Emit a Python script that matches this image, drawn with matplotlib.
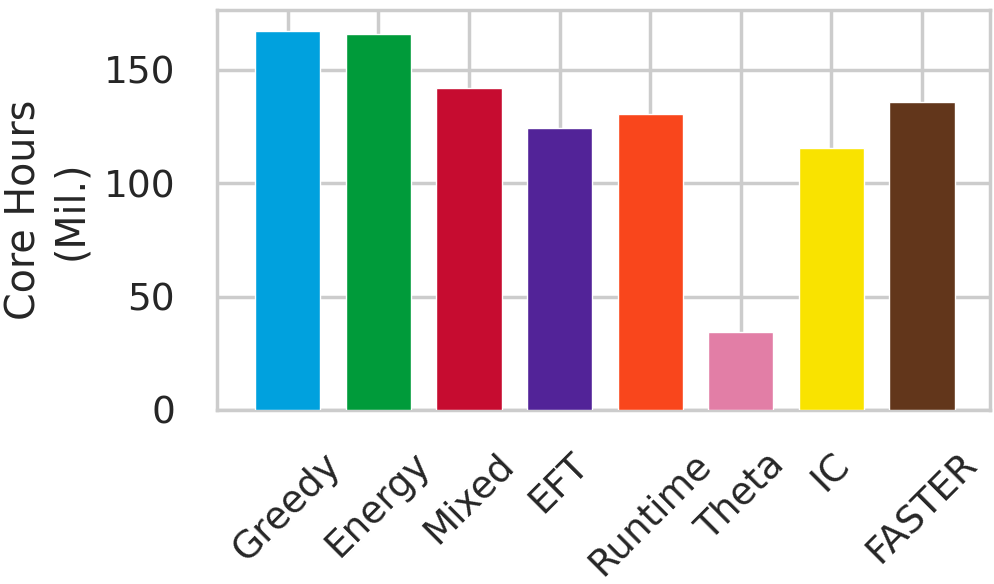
import numpy as np
import matplotlib
matplotlib.use("Agg")
import matplotlib.pyplot as plt
import seaborn as sns

methods = ["Greedy", "Energy", "Mixed", "EFT", "Runtime", "Theta", "IC", "FASTER"]
core_hours = [167.1, 165.9, 141.8, 124.2, 130.4, 34.3, 115.6, 135.6]
# CTA line colours
colors = ["#00A1DE", "#009B3A", "#C60C30", "#522398",
          "#F9461C", "#E27EA6", "#F9E300", "#62361B"]

sns.set_theme(style="whitegrid", context="poster")
plt.rcParams["font.family"] = ["DejaVu Sans"]

fig = plt.figure(figsize=(9.95, 5.84), dpi=100)
ax = fig.add_axes([0.218, 0.298, 0.777, 0.685])

x = np.arange(len(methods))
ax.bar(x, core_hours, width=0.72, color=colors, edgecolor="white", linewidth=1, zorder=3)

ax.set_xlim(-0.78, 7.75)
ax.set_ylim(0, 176.4)
ax.set_yticks([0, 50, 100, 150])
ax.set_xticks(x)
ax.set_xticklabels(methods, rotation=45, ha="center")
ax.tick_params(axis="both", labelsize=27, colors="#262626")
ax.tick_params(axis="y", pad=18)
ax.tick_params(axis="x", pad=14)
ax.grid(True, color="#cccccc", linewidth=2.5)
for s in ax.spines.values():
    s.set_color("#cccccc")
    s.set_linewidth(2.5)
ax.set_ylabel("Core Hours\n(Mil.)", fontsize=28.5, color="#262626", labelpad=9)

fig.savefig("out.png", dpi=100)
